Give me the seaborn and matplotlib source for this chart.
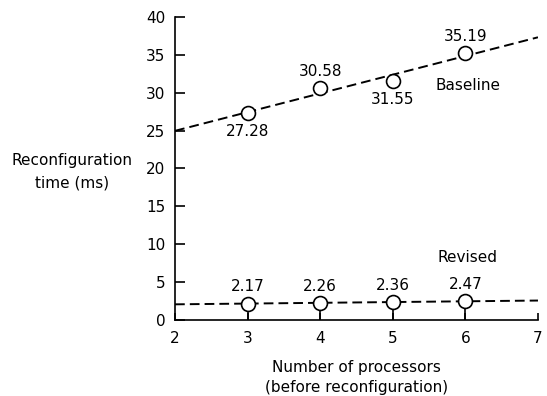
import matplotlib
matplotlib.use('Agg')
import matplotlib.pyplot as plt
import seaborn as sns
import numpy as np

# data
processors = [3, 4, 5, 6]
baseline = [27.28, 30.58, 31.55, 35.19]
revised = [2.17, 2.26, 2.36, 2.47]
baseline_pos = ['below', 'above', 'below', 'above']
x_ticks = [2, 3, 4, 5, 6, 7]
y_ticks = [0, 5, 10, 15, 20, 25, 30, 35, 40]

sns.set_style('ticks')
plt.rcParams['font.family'] = ['DejaVu Sans']
plt.rcParams['font.size'] = 11
plt.rcParams['text.color'] = 'black'
plt.rcParams['axes.labelcolor'] = 'black'

fig = plt.figure(figsize=(5.47, 3.96), dpi=100)
ax = fig.add_axes([0.32, 0.192, 0.6635, 0.765])
ax.set_xlim(2, 7)
ax.set_ylim(0, 40)

# dashed least-squares lines over the full x range
for ys in (baseline, revised):
    sns.regplot(x=processors, y=ys, ax=ax, scatter=False, ci=None, truncate=False,
                color='black', line_kws={'ls': (0, (5, 2.6)), 'lw': 1.4})

# stems from the axis up to the revised points
ax.vlines(processors, 0, np.array(revised) - 0.8, color='black', lw=1.2)

for ys in (baseline, revised):
    ax.plot(processors, ys, 'o', ms=10, mfc='white', mec='black', mew=1.2, zorder=5)

for x, y, pos in zip(processors, baseline, baseline_pos):
    dy = 12.5 if pos == 'above' else -13
    ax.annotate(f'{y:.2f}', (x, y), xytext=(0, dy), textcoords='offset points',
                ha='center', va='center', fontsize=11)
for x, y in zip(processors, revised):
    ax.annotate(f'{y:.2f}', (x, y), xytext=(0, 12), textcoords='offset points',
                ha='center', va='center', fontsize=11)

ax.text(6.03, 31.0, 'Baseline', ha='center', va='center', fontsize=11)
ax.text(6.03, 8.3, 'Revised', ha='center', va='center', fontsize=11)

ax.set_xticks(x_ticks)
ax.set_yticks(y_ticks)
ax.tick_params(direction='in', length=7, width=1.2, labelsize=11, colors='black')
ax.tick_params(axis='x', length=5, pad=8)
ax.tick_params(axis='y', pad=7)
for s in ('left', 'bottom'):
    ax.spines[s].set_linewidth(1.2)
    ax.spines[s].set_color('black')
sns.despine(ax=ax)

ax.set_xlabel('Number of processors\n(before reconfiguration)', fontsize=11, labelpad=10,
              linespacing=1.45)
ax.set_ylabel('Reconfiguration\ntime (ms)', fontsize=11, rotation=0, ha='center',
              va='center', linespacing=1.65)
ax.yaxis.set_label_coords(-0.284, 0.49)

fig.savefig('out.png', dpi=100)
